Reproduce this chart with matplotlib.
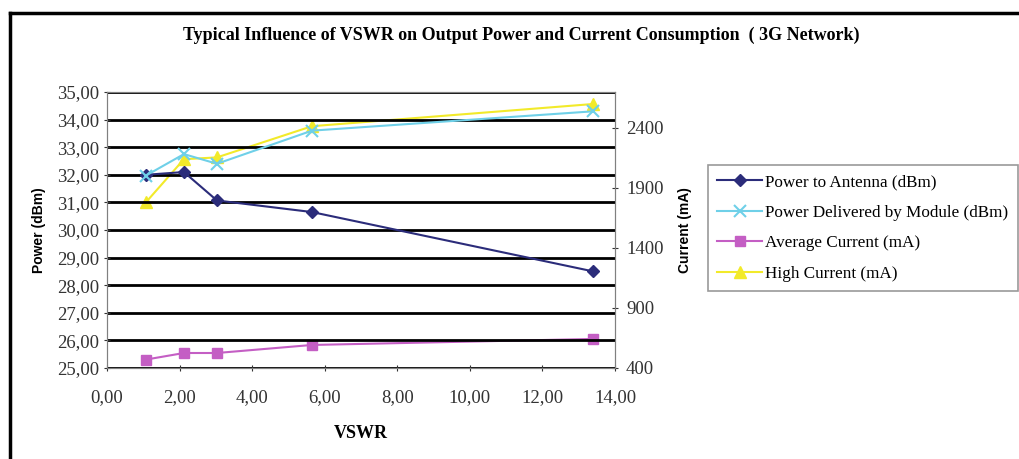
import matplotlib
matplotlib.use('Agg')
import matplotlib.pyplot as plt
from matplotlib.ticker import FuncFormatter, MultipleLocator
from matplotlib.lines import Line2D

# data
vswr = [1.07, 2.12, 3.03, 5.65, 13.4]
power_antenna = [32.0, 32.1, 31.07, 30.65, 28.5]
power_module = [31.97, 32.75, 32.4, 33.6, 34.3]
avg_current = [470, 525, 525, 592, 642]
high_current = [1780, 2140, 2155, 2415, 2600]

plt.rcParams['font.family'] = ['Liberation Serif', 'DejaVu Serif']

fig = plt.figure(figsize=(10.19, 4.59), dpi=100)
W, H = 1019, 459

# outer frame (only left/top visible in the source)
fig.add_artist(Line2D([10 / W, 10 / W], [0, 1 - 13 / H], color='black', lw=2.5))
fig.add_artist(Line2D([10 / W, 1], [1 - 13 / H, 1 - 13 / H], color='black', lw=2.5))

ax = fig.add_axes([107 / W, 1 - 368 / H, (615 - 107) / W, (368 - 92) / H])
ax2 = ax.twinx()

ax.set_xlim(0, 14)
ax.set_ylim(25, 35)
ax.xaxis.set_major_locator(MultipleLocator(2))
ax.yaxis.set_major_locator(MultipleLocator(1))
fmt = FuncFormatter(lambda v, p: f"{v:.2f}".replace('.', ','))
ax.xaxis.set_major_formatter(fmt)
ax.yaxis.set_major_formatter(fmt)
ax.tick_params(labelsize=13.5, colors='#333333', length=4, direction='inout')
ax.tick_params(axis='x', pad=13)

ax2.set_ylim(400, 2700)
ax2.set_yticks([400, 900, 1400, 1900, 2400])
ax2.tick_params(labelsize=13.5, colors='#333333', length=4, direction='inout', pad=6)

# gray plot area sits on ax2 (back), lines of both axes drawn on top
ax.set_zorder(ax2.get_zorder() + 1)
ax.patch.set_visible(False)
ax2.set_facecolor('#b9bac2')
for a in (ax, ax2):
    for s in a.spines.values():
        s.set_color('#808080')
for yv in range(25, 36):
    ax.axhline(yv, color='black', lw=2, zorder=0.5)

l1, = ax.plot(vswr, power_antenna, color='#2b2c7a', marker='D', ms=6, lw=1.5)
l2, = ax.plot(vswr, power_module, color='#6fd0e8', marker='x', ms=8, mew=1.5, lw=1.5)
l3, = ax2.plot(vswr, avg_current, color='#c45ec4', marker='s', ms=7, lw=1.5)
l4, = ax2.plot(vswr, high_current, color='#f2ea2a', marker='^', ms=9, lw=1.5)

ax.set_xlabel('VSWR', fontsize=13, fontweight='bold', labelpad=14)
ax.set_ylabel('Power (dBm)', fontsize=10, fontweight='bold', family='Liberation Sans', labelpad=8)
ax2.set_ylabel('Current (mA)', fontsize=10, fontweight='bold', family='Liberation Sans', labelpad=10)

fig.text(521 / W, 1 - 35 / H, 'Typical Influence of VSWR on Output Power and Current Consumption  ( 3G Network)',
         ha='center', va='center', fontsize=13, fontweight='bold')

leg = fig.legend([l1, l2, l3, l4],
                 ['Power to Antenna (dBm)', 'Power Delivered by Module (dBm)',
                  'Average Current (mA)', 'High Current (mA)'],
                 loc='upper left', bbox_to_anchor=(708 / W, 1 - 165 / H),
                 fontsize=12.3, frameon=True, fancybox=False, edgecolor='#808080',
                 handlelength=2.6, borderpad=0.55, labelspacing=0.85, handletextpad=0.2,
                 borderaxespad=0)
leg.get_frame().set_linewidth(1.2)

fig.savefig('out.png', dpi=100)
